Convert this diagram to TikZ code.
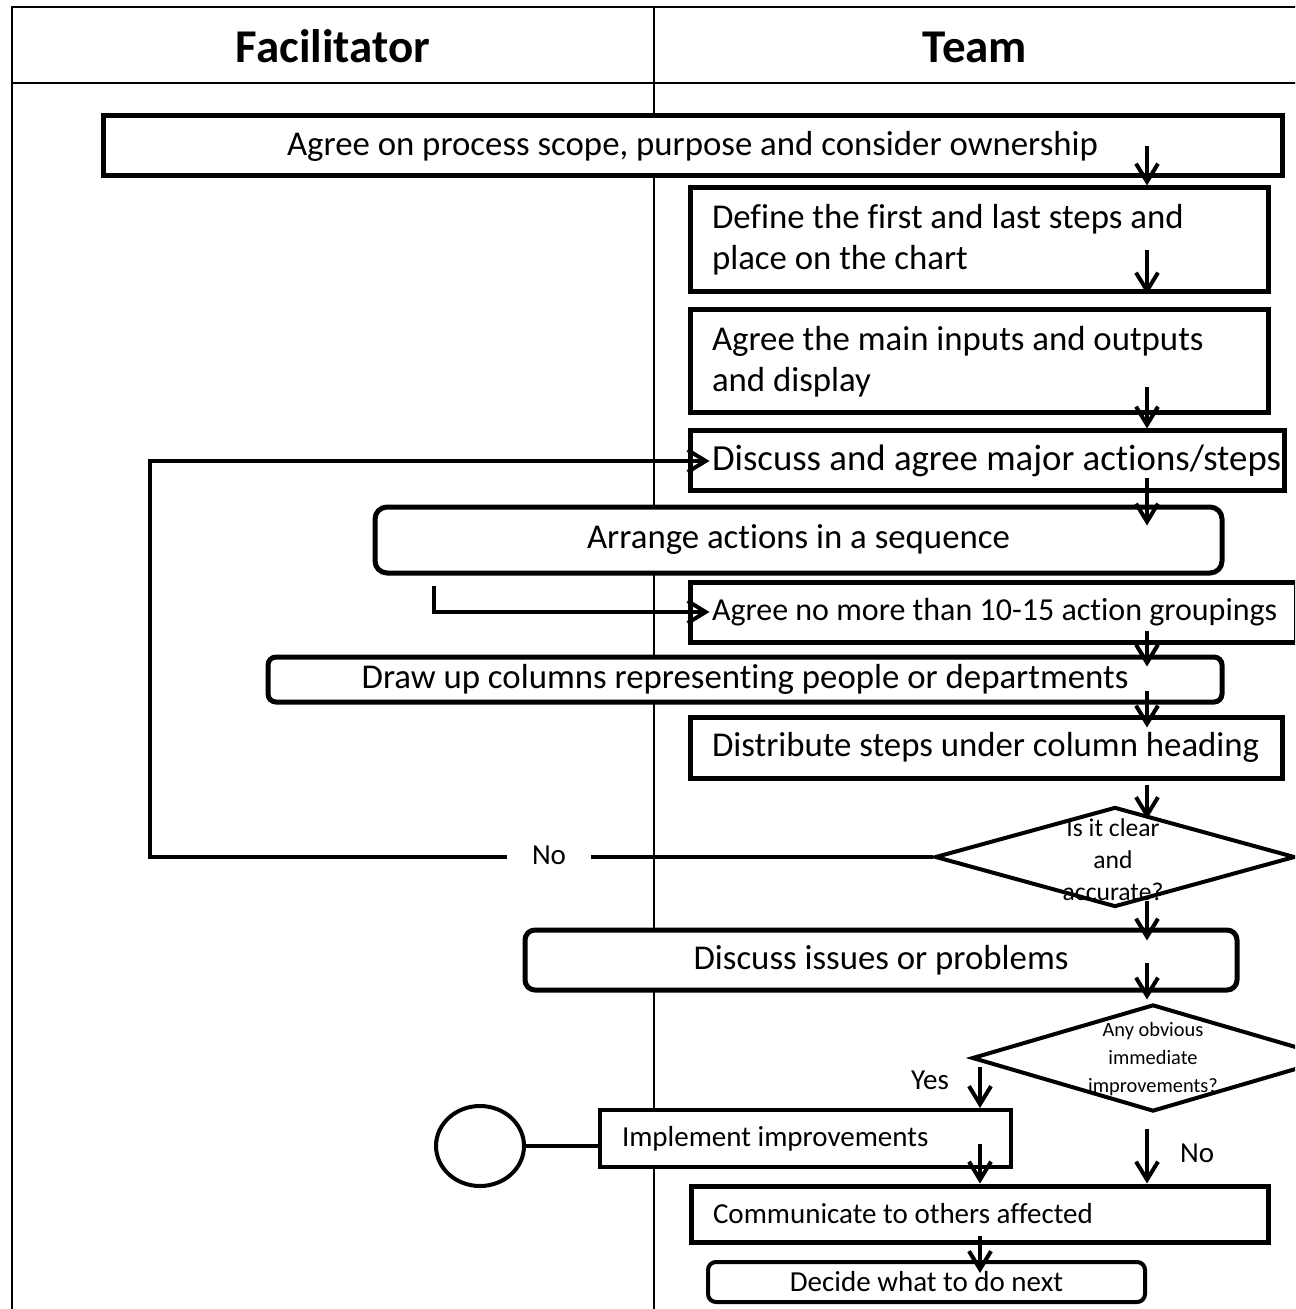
\documentclass[tikz,border=0pt]{standalone}
\usepackage{fontspec}
\setmainfont{Carlito}[Ligatures=NoCommon]
\usetikzlibrary{shapes.geometric,arrows.meta,calc}
\begin{document}
\begin{tikzpicture}[x=0.5pt,y=-0.5pt,
  box/.style={draw, line width=2.5pt, fill=white, inner ysep=0pt,
    font=\fontsize{17.4}{20.5}\selectfont},
  lbox/.style={box, align=flush left, inner xsep=11pt},
  cbox/.style={box, align=center, inner xsep=0pt},
  rbox/.style={cbox, rounded corners=6pt},
  smallfont/.style={font=\fontsize{14.5}{17}\selectfont},
  dia/.style={diamond, draw, line width=2pt, fill=white, inner sep=0pt},
  flow/.style={line width=2pt, -{Straight Barb[length=9pt,width=11pt]}},
  link/.style={line width=2pt},
  frame/.style={line width=1.3pt},
  title/.style={font=\bfseries\fontsize{23.5}{28}\selectfont, anchor=base}
]
\useasboundingbox (0,0) rectangle (1295,1309);
\clip (0,0) rectangle (1295,1309);

% swimlane frame
\draw[frame] (12,1320) -- (12,7) -- (1300,7);
\draw[frame] (12,83) -- (1300,83);
\draw[line width=0.8pt] (654,7) -- (654,1320);
\node[title] (hfac) at (333,63) {Facilitator};
\node[title] (hteam) at (975,63) {Team};

% guide columns for the vertical connectors
\coordinate (sp) at (1147,0);
\coordinate (yx) at (980,0);
\coordinate (loopx) at (150,0);

% process steps
\node[cbox, minimum width=589.5pt, minimum height=30pt] (scope) at (692.5,146)
  {Agree on process scope, purpose and consider ownership};
\node[lbox, text width=267pt, minimum width=289pt, minimum height=52pt] (ends) at (979,240)
  {\mbox{Define the first and last steps and}\\\mbox{place on the chart}};
\node[lbox, text width=267pt, minimum width=289pt, minimum height=51.5pt] (io) at (979,361.5)
  {\mbox{Agree the main inputs and outputs}\\\mbox{and display}};
\node[lbox, font=\fontsize{18.4}{21}\selectfont, text width=275pt, minimum width=297pt,
  minimum height=30pt] (major) at (987,461)
  {\mbox{Discuss and agree major actions/steps}};
\node[rbox, minimum width=423.5pt, minimum height=33pt] (seq) at (798.5,540)
  {Arrange actions in a sequence};
\node[lbox, font=\fontsize{16}{20}\selectfont, text width=281pt, minimum width=303pt,
  minimum height=30pt] (groups) at (993,612)
  {\mbox{Agree no more than 10-15 action groupings}};
\node[rbox, rounded corners=4pt, minimum width=477pt, minimum height=22.5pt] (cols) at (745,679.5)
  {Draw up columns representing people or departments};
\node[lbox, text width=274pt, minimum width=296pt, minimum height=30.5pt] (dist) at (986,747.5)
  {\mbox{Distribute steps under column heading}};

\node[dia, minimum width=180pt, minimum height=50pt] (clear) at (1115,857) {};
\node[font=\fontsize{12.8}{16}\selectfont, align=center] (cleartxt) at (1113,860)
  {Is it clear\\and\\accurate?};

\node[rbox, rounded corners=5pt, minimum width=356pt, minimum height=30pt] (issues) at (881,960)
  {Discuss issues or problems};

\node[dia, minimum width=181pt, minimum height=53.5pt] (obv) at (1153,1058) {};
\node[font=\fontsize{10.2}{13.8}\selectfont, align=center] (obvtxt) at (1153,1059)
  {Any obvious\\immediate\\improvements?};

\node[lbox, smallfont, line width=2pt, text width=183.5pt, minimum width=205.5pt,
  minimum height=28.5pt] (impl) at (805.5,1138.5) {\mbox{Implement improvements}};
\node[ellipse, draw, line width=2pt, fill=white, minimum width=44pt, minimum height=40pt]
  (term) at (480,1146) {};
\node[lbox, smallfont, text width=266.5pt, minimum width=288.5pt, minimum height=28pt]
  (comm) at (979.5,1214) {\mbox{Communicate to others affected}};
\node[rbox, smallfont, rounded corners=4pt, line width=2pt, minimum width=218.5pt,
  minimum height=20pt] (next) at (926.5,1282) {Decide what to do next};

% labels
\node[smallfont] (yes) at (930,1080) {Yes};
\node[smallfont] (nodown) at (1197,1153) {No};
\node[smallfont, inner xsep=12.5pt] (noback) at (549,855) {No};

% main flow
\draw[flow] ($(scope.south -| sp)+(0,-32)$) -- (ends.north -| sp);
\draw[flow] ($(ends.south -| sp)+(0,-44)$) -- (ends.south -| sp);
\draw[flow] ($(io.south -| sp)+(0,-28)$) -- (major.north -| sp);
\draw[flow] ($(major.south -| sp)+(0,-15)$) -- ($(seq.north -| sp)+(0,21)$);
\draw[flow] ($(groups.south -| sp)+(0,-14)$) -- ($(cols.north -| sp)+(0,12)$);
\draw[flow] ($(cols.south -| sp)+(0,-14)$) -- ($(dist.north -| sp)+(0,13)$);
\draw[flow] ($(dist.south -| sp)+(0,4)$) -- ($(clear.north -| sp)+(0,14)$);
\draw[flow] ($(clear.south -| sp)+(0,-8)$) -- ($(issues.north -| sp)+(0,13)$);
\draw[flow] ($(issues.south -| sp)+(0,-30)$) -- ($(obv.north -| sp)+(0,-3)$);

% sequence to groupings
\draw[flow] ($(seq.south west)+(61,10)$) |- ([xshift=11pt]groups.west);

% loop back when the chart is not clear
\draw[link] (clear.west) -- (clear.west -| noback.east);
\draw[flow] (noback.west |- clear.west) -- (loopx |- clear.west) -- (loopx |- major.west)
  -- ([xshift=11pt]major.west);

% improvements branch
\draw[flow] ($(obv.west -| yx)+(0,9)$) -- (impl.north -| yx);
\draw[flow] ($(obv.south -| sp)+(0,15)$) -- (comm.north -| sp);
\draw[link] (term.east) -- (term.east -| impl.west);
\draw[flow] ($(impl.south -| yx)+(0,-25)$) -- (comm.north -| yx);
\draw[flow] ($(comm.south -| yx)+(0,-9)$) -- ($(next.north -| yx)+(0,13)$);
\end{tikzpicture}
\end{document}
